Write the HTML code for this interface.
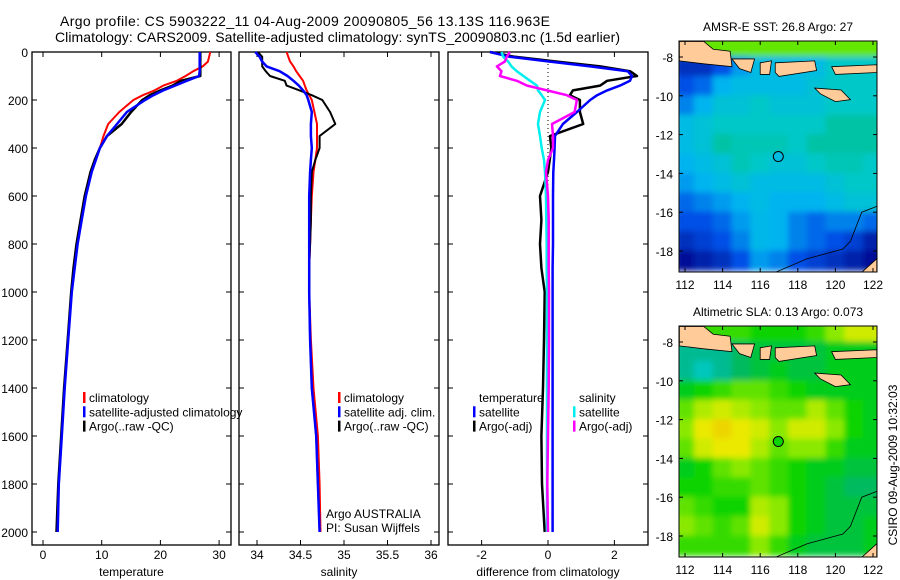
<!DOCTYPE html>
<html><head><meta charset="utf-8"><style>
html,body{margin:0;padding:0;background:#fff;}
svg{display:block;font-family:"Liberation Sans",sans-serif;}
</style></head><body>
<svg id="fig" width="900" height="580" viewBox="0 0 900 580" xmlns="http://www.w3.org/2000/svg">
<defs>
<filter id="blur" x="-5%" y="-5%" width="110%" height="110%"><feGaussianBlur stdDeviation="3"/></filter>
<clipPath id="clipM1"><rect x="679" y="41" width="198" height="231"/></clipPath>
<clipPath id="clipM2"><rect x="679" y="326" width="198" height="231"/></clipPath>
</defs>
<text x="60" y="26" font-size="14" textLength="490">Argo profile: CS 5903222_11 04-Aug-2009 20090805_56 13.13S 116.963E</text>
<text x="55" y="42" font-size="14" textLength="565">Climatology: CARS2009. Satellite-adjusted climatology: synTS_20090803.nc (1.5d earlier)</text>
<g id="root"></g>
</svg>
<script>
// depth levels (m)
const depths = [0,20,40,60,80,100,120,140,160,180,200,250,300,350,400,450,500,600,700,800,900,1000,1200,1400,1600,1800,2000];
// temperature
const tempClim = [28.5,28.3,28.1,27.2,25.6,24.3,22.8,20.5,19.0,17.0,15.4,13.0,11.1,10.3,9.7,9.0,8.3,7.3,6.6,5.9,5.4,4.9,4.3,3.7,3.2,2.7,2.5];
const tempSat  = [26.7,26.7,26.7,26.7,26.7,26.6,24.5,22.5,20.5,18.8,17.4,14.3,12.6,10.9,9.7,9.0,8.3,7.3,6.6,5.9,5.4,4.9,4.3,3.7,3.2,2.7,2.5];
const tempArgo = [26.8,26.8,26.8,26.8,26.8,26.8,23.5,22.1,20.0,18.2,16.9,15.0,13.4,10.9,9.7,8.8,8.1,7.1,6.4,5.7,5.2,4.8,4.2,3.6,3.1,2.6,2.3];
// salinity
const salClim = [34.34,34.36,34.38,34.42,34.45,34.49,34.53,34.55,34.57,34.60,34.63,34.66,34.69,34.69,34.69,34.67,34.65,34.63,34.62,34.61,34.60,34.60,34.62,34.65,34.70,34.72,34.73];
const salSat  = [33.98,34.03,34.06,34.11,34.26,34.35,34.42,34.48,34.53,34.57,34.59,34.63,34.62,34.62,34.63,34.62,34.61,34.60,34.60,34.60,34.60,34.60,34.61,34.63,34.68,34.70,34.72];
const salArgo = [34.01,34.06,34.06,34.06,34.10,34.15,34.32,34.34,34.49,34.63,34.75,34.84,34.90,34.72,34.72,34.67,34.63,34.62,34.62,34.61,34.60,34.60,34.61,34.63,34.68,34.70,34.72];
// differences from climatology
const dTempSat  = [-1.75,-1.15,0.06,1.27,2.40,2.53,2.47,2.17,1.78,1.48,1.27,0.87,0.45,0.21,0.20,0.18,0.16,0.15,0.15,0.15,0.14,0.14,0.14,0.14,0.14,0.14,0.14];
const dTempArgo = [-1.75,-1.00,0.27,1.57,2.47,2.68,1.78,1.57,0.75,0.66,0.96,0.96,1.06,0.06,0.10,0.05,0.00,-0.24,-0.20,-0.24,-0.20,-0.10,-0.12,-0.15,-0.20,-0.18,-0.10];
const dSalSat   = [-1.40,-1.35,-1.20,-1.10,-0.94,-0.74,-0.54,-0.33,-0.30,-0.19,-0.09,-0.24,-0.30,-0.24,-0.19,-0.12,-0.09,-0.06,-0.05,-0.04,-0.04,-0.03,-0.03,-0.03,-0.03,-0.03,-0.03];
const dSalArgo  = [-1.15,-1.24,-1.30,-1.54,-1.40,-1.45,-0.94,-0.63,-0.03,0.57,0.87,0.80,0.12,0.15,0.15,0.00,-0.06,0.00,0.02,0.02,0.02,0.03,0.03,0.02,0.00,-0.02,0.00];
// axis ticks
const depthTicks = [0,200,400,600,800,1000,1200,1400,1600,1800,2000];
const tempTicks = [0,10,20,30];
const salTicks = [34,34.5,35,35.5,36];
const salTickLabels = ["34","34.5","35","35.5","36"];
const diffTicks = [-2,0,2];
const lonTicks = [112,114,116,118,120,122];
const latTicks = [-8,-10,-12,-14,-16,-18];
// map grids: rows lat -7.5 .. -18.5, cols lon 112 .. 122 (1 degree)
const sstGrid = [
[28.6,28.6,28.6,28.6,28.6,28.6,28.6,28.6,28.6,28.6,28.6],
[25.6,25.6,26.0,26.6,27.0,27.0,27.0,27.0,27.4,27.4,27.4],
[26.0,26.2,26.8,27.0,27.0,27.0,27.0,27.2,27.4,27.4,27.4],
[26.4,26.8,27.2,27.2,27.4,27.2,27.2,27.2,27.4,27.4,27.4],
[27.0,27.2,27.4,27.4,27.4,27.4,27.4,27.4,27.6,27.6,27.6],
[27.0,27.2,27.6,27.5,27.5,27.5,27.4,27.6,27.6,27.6,27.6],
[26.8,27.0,27.2,27.5,27.4,27.2,27.2,27.4,27.5,27.5,27.4],
[26.6,26.8,27.0,27.2,27.0,27.0,27.0,27.0,27.2,27.4,27.4],
[26.2,26.4,26.6,26.8,27.0,26.8,26.8,26.8,27.0,27.2,27.2],
[26.0,26.0,26.2,26.6,26.9,26.8,26.4,26.2,26.4,26.4,26.2],
[25.6,25.8,26.0,26.4,26.9,26.8,26.4,26.2,26.0,25.8,25.4],
[25.2,25.4,25.6,26.0,26.6,26.4,26.0,25.8,25.6,25.4,25.2]];
const slaGrid = [
[0.10,0.10,0.10,0.10,0.08,0.08,0.08,0.10,0.14,0.18,0.18],
[-0.02,-0.02,-0.02,0.02,0.04,0.04,0.04,0.04,0.06,0.06,0.06],
[-0.02,-0.06,-0.02,0.02,0.04,0.06,0.04,0.04,0.06,0.06,0.06],
[0.06,0.08,0.10,0.12,0.12,0.10,0.08,0.06,0.06,0.06,0.06],
[0.12,0.16,0.18,0.16,0.14,0.12,0.12,0.16,0.12,0.08,0.06],
[0.14,0.20,0.22,0.20,0.18,0.14,0.18,0.18,0.14,0.08,0.06],
[0.12,0.18,0.20,0.20,0.16,0.12,0.14,0.14,0.10,0.06,0.06],
[0.06,0.08,0.12,0.14,0.12,0.10,0.08,0.06,0.06,0.04,0.04],
[0.08,0.08,0.10,0.10,0.12,0.10,0.08,0.06,0.04,0.02,0.02],
[0.12,0.10,0.08,0.08,0.16,0.14,0.08,0.06,0.04,0.04,0.04],
[0.14,0.12,0.10,0.12,0.18,0.14,0.08,0.06,0.04,0.04,0.06],
[0.10,0.10,0.10,0.10,0.14,0.10,0.06,0.04,0.04,0.04,0.06]];
const gridLons = [112,113,114,115,116,117,118,119,120,121,122];
const gridLats = [-7.5,-8.5,-9.5,-10.5,-11.5,-12.5,-13.5,-14.5,-15.5,-16.5,-17.5,-18.5];
const argoPos = [116.963,-13.13];
const argoSst = 27.0;
const argoSla = 0.073;

const NS = "http://www.w3.org/2000/svg";
const root = document.getElementById('root');
function mk(tag, attrs, parent){ const e=document.createElementNS(NS,tag); for(const k in attrs) e.setAttribute(k,attrs[k]); (parent||root).appendChild(e); return e; }
function txt(x,y,s,size,anchor,parent){ const e=mk('text',{x:x,y:y,'font-size':size||12,'text-anchor':anchor||'start'},parent); e.textContent=s; return e; }

const Y = d => 52 + 0.24*d;
const PB = 545, PT = 52;
const panels = [
 {x0:32,x1:231,f:v=>43+5.87*v,ticks:tempTicks,labels:tempTicks.map(String),title:'temperature',ylab:true,name:'temperature-panel'},
 {x0:239,x1:439,f:v=>257+87*(v-34),ticks:salTicks,labels:salTickLabels,title:'salinity',ylab:false,name:'salinity-panel'},
 {x0:448,x1:648,f:v=>548+33.2*v,ticks:diffTicks,labels:diffTicks.map(String),title:'difference from climatology',ylab:false,name:'difference-panel'}
];
panels.forEach(p=>{
  const g=mk('g',{});
  
  
  const fr=mk('rect',{x:p.x0,y:PT,width:p.x1-p.x0,height:PB-PT,fill:'none',stroke:'#000','stroke-width':1.3},g);
  
  
  depthTicks.forEach(d=>{
    mk('line',{x1:p.x0,x2:p.x0+5,y1:Y(d),y2:Y(d),stroke:'#000'},g);
    mk('line',{x1:p.x1,x2:p.x1-5,y1:Y(d),y2:Y(d),stroke:'#000'},g);
    if(p.ylab){ const t=txt(28,Y(d)+5,String(d),12,'end',g);
      
       }
  });
  p.ticks.forEach((v,i)=>{
    const x=p.f(v);
    mk('line',{x1:x,x2:x,y1:PB,y2:PB-5,stroke:'#000'},g);
    mk('line',{x1:x,x2:x,y1:PT,y2:PT+5,stroke:'#000'},g);
    const t=txt(x,559,p.labels[i],12,'middle',g);
    
    
  });
  const at=txt((p.x0+p.x1)/2,576,p.title,12,'middle',g);
  
  
});
function line(vals,f,color,w,name){
  const pts=vals.map((v,i)=>f(v).toFixed(1)+','+Y(depths[i]).toFixed(1)).join(' ');
  const e=mk('polyline',{points:pts,fill:'none',stroke:color,'stroke-width':w,'stroke-linejoin':'round'});
  
  
}
const dz=mk('line',{x1:548,x2:548,y1:PT,y2:532,stroke:'#000','stroke-dasharray':'1,3','stroke-width':1});


line(tempClim,panels[0].f,'#f00',2,'temp-climatology-line');
line(tempArgo,panels[0].f,'#000',2.5,'temp-argo-line');
line(tempSat,panels[0].f,'#00f',2.5,'temp-satellite-line');
line(salClim,panels[1].f,'#f00',2,'sal-climatology-line');
line(salArgo,panels[1].f,'#000',2,'sal-argo-line');
line(salSat,panels[1].f,'#00f',2.5,'sal-satellite-line');
line(dTempArgo,panels[2].f,'#000',2.5,'diff-temp-argo-line');
line(dTempSat,panels[2].f,'#00f',2.5,'diff-temp-satellite-line');
line(dSalSat,panels[2].f,'#0ee',2.5,'diff-sal-satellite-line');
line(dSalArgo,panels[2].f,'#f0f',2.5,'diff-sal-argo-line');

function legend(x,y,items,name){
  const g=mk('g',{});
  
  
  items.forEach((it,i)=>{
    if(it[0]) mk('rect',{x:x,y:y+i*14.3-10,width:2.5,height:11,fill:it[0]},g);
    txt(x+6,y+i*14.3,it[1],12,'start',g);
  });
}
legend(83,402,[['#f00','climatology'],['#00f','satellite-adjusted climatology'],['#000','Argo(..raw -QC)']],'temperature-legend');
legend(338,402,[['#f00','climatology'],['#00f','satellite adj. clim.'],['#000','Argo(..raw -QC)']],'salinity-legend');
legend(473,402,[[null,'temperature'],['#00f','satellite'],['#000','Argo(-adj)']],'diff-temperature-legend');
legend(573,402,[[null,'salinity'],['#0ee','satellite'],['#f0f','Argo(-adj)']],'diff-salinity-legend');
const pi1=txt(326,518,'Argo AUSTRALIA',12);  
const pi2=txt(326,532,'PI: Susan Wijffels',12);  

// ---- maps ----
function interp(stops,t){ t=Math.max(0,Math.min(1,t));
  for(let i=1;i<stops.length;i++){ if(t<=stops[i][0]){ const a=stops[i-1],b=stops[i],u=(t-a[0])/(b[0]-a[0]);
    return 'rgb('+[1,2,3].map(k=>Math.round(a[k]+(b[k]-a[k])*u)).join(',')+')'; } } const l=stops[stops.length-1]; return 'rgb('+l[1]+','+l[2]+','+l[3]+')'; }
const jetSst=[[0,0,0,130],[0.25,0,80,230],[0.45,0,180,240],[0.6,0,200,200],[0.7,0,190,130],[0.8,0,200,50],[0.9,100,230,0],[1,240,240,0]];
const jetSla=[[0,0,210,230],[0.3,0,180,120],[0.5,0,210,0],[0.7,150,235,0],[0.85,235,235,0],[1,240,185,0]];
const lands=[
 [[111.7,-7.2],[113,-7.2],[113.5,-7.6],[114.4,-7.7],[114.5,-8.5],[113,-8.35],[111.7,-8.2]],
 [[114.5,-8.1],[115.7,-8.1],[115.5,-8.8],[114.9,-8.6]],
 [[116.0,-8.3],[116.6,-8.2],[116.5,-8.9],[116.0,-8.9]],
 [[116.8,-8.3],[118.9,-8.2],[119.0,-8.7],[117.0,-9.0],[116.8,-8.8]],
 [[119.8,-8.5],[122.2,-8.4],[122.2,-8.8],[120.0,-8.9]],
 [[118.9,-9.6],[120.3,-9.7],[120.8,-10.2],[120.0,-10.3],[119.2,-9.9]],
 [[121.4,-19.1],[122.2,-18.4],[122.2,-19.1]]];
const eez=[[122.2,-15.7],[121.4,-16],[120.8,-17.5],[120.4,-17.9],[118.5,-18.4],[116.8,-19.1]];
function drawMap(top,grid,stops,vmin,vmax,title,clip,name,argoVal){
  const X=lon=>685+18.8*(lon-112), Yl=lat=>top+16+19.4*(-8-lat);
  const g=mk('g',{});
  
  
  const cg=mk('g',{'clip-path':'url(#'+clip+')'},g);
  const hg=mk('g',{filter:'url(#blur)'},cg);
  grid.forEach((row,j)=>row.forEach((v,i)=>{
    const c=mk('rect',{x:X(gridLons[i]-0.5)-0.5,y:Yl(gridLats[j]+0.5)-0.5,width:19.8,height:20.4,fill:interp(stops,(v-vmin)/(vmax-vmin))},hg);
    
    
  }));
  lands.forEach(poly=>{
    const l=mk('polygon',{points:poly.map(p=>X(p[0])+','+Yl(p[1])).join(' '),fill:'#fc9',stroke:'#000','stroke-width':0.8},cg);
    
    
  });
  mk('polyline',{points:eez.map(p=>X(p[0])+','+Yl(p[1])).join(' '),fill:'none',stroke:'#000','stroke-width':0.8},cg);
  const ac=mk('circle',{cx:X(argoPos[0]),cy:Yl(argoPos[1]),r:5,fill:interp(stops,(argoVal-vmin)/(vmax-vmin)),'fill-opacity':0.9,stroke:'#000','stroke-width':1},cg);
  
  
  mk('rect',{x:679,y:top,width:198,height:231,fill:'none',stroke:'#000','stroke-width':1},g);
  lonTicks.forEach(l=>{ mk('line',{x1:X(l),x2:X(l),y1:top,y2:top+4,stroke:'#000'},g); mk('line',{x1:X(l),x2:X(l),y1:top+231,y2:top+227,stroke:'#000'},g);
    const t=txt(X(l),top+248,String(l),12,'middle',g);   });
  latTicks.forEach(l=>{ mk('line',{x1:679,x2:683,y1:Yl(l),y2:Yl(l),stroke:'#000'},g); mk('line',{x1:877,x2:873,y1:Yl(l),y2:Yl(l),stroke:'#000'},g);
    const t=txt(673,Yl(l)+5,String(l),12,'end',g);   });
  const tt=txt(778,top-10,title,12,'middle',g);
  
  
}
drawMap(41,sstGrid,jetSst,25,29,'AMSR-E SST: 26.8 Argo: 27','clipM1','sst-map',argoSst);
drawMap(326,slaGrid,jetSla,-0.1,0.25,'Altimetric SLA: 0.13 Argo: 0.073','clipM2','sla-map',argoSla);
const cs=txt(0,0,'CSIRO 09-Aug-2009 10:32:03',12,'middle');
cs.setAttribute('transform','translate(897,465) rotate(-90)');


</script>
</body></html>
